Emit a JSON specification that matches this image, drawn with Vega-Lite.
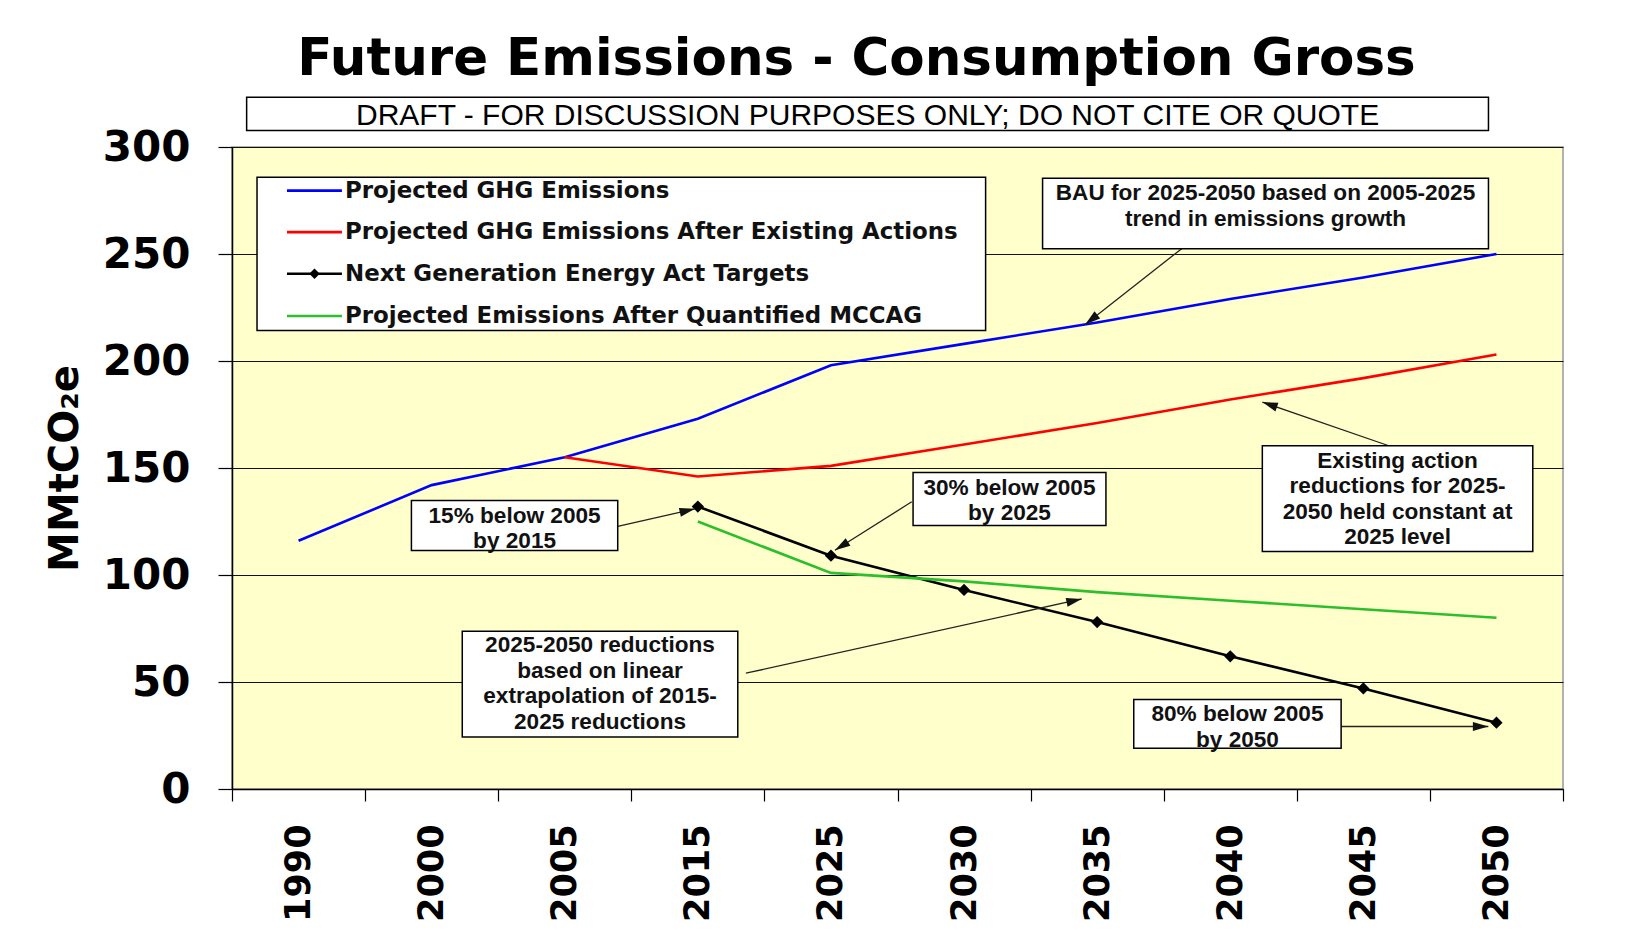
{
  "$schema": "https://vega.github.io/schema/vega-lite/v6.json",
  "width": 1331,
  "height": 642,
  "autosize": {"type": "none"},
  "padding": {"left": 232, "top": 147, "right": 62, "bottom": 142},
  "background": "white",
  "view": {"fill": "#FFFFCC", "stroke": "#999999", "strokeWidth": 1.5},
  "title": {
    "text": "Future Emissions - Consumption Gross",
    "anchor": "middle",
    "frame": "group",
    "dx": -41,
    "offset": -30,
    "baseline": "alphabetic",
    "font": "DejaVu Sans",
    "fontSize": 51.5,
    "fontWeight": "bold",
    "color": "black"
  },
  "config": {
    "axisX": {
      "tickBand": "extent",
      "labelAngle": -90,
      "labelFont": "DejaVu Sans",
      "labelFontWeight": "bold",
      "labelFontSize": 35,
      "labelColor": "black",
      "labelPadding": 23,
      "tickSize": 12,
      "tickColor": "black",
      "tickWidth": 1.2,
      "domainColor": "black",
      "domainWidth": 1.5,
      "grid": false
    },
    "axisY": {
      "labelFont": "DejaVu Sans",
      "labelFontWeight": "bold",
      "labelFontSize": 42,
      "labelColor": "black",
      "labelPadding": 28,
      "tickSize": 14,
      "tickColor": "black",
      "tickWidth": 1.2,
      "domainColor": "black",
      "domainWidth": 1.5,
      "grid": true,
      "gridColor": "#111111",
      "gridWidth": 1.2,
      "titleFont": "DejaVu Sans",
      "titleFontWeight": "bold",
      "titleFontSize": 40,
      "titleColor": "black",
      "titlePadding": 17
    }
  },
  "datasets": {
    "series": [
      {"series": "Projected GHG Emissions", "year": 1990, "emissions": 116},
      {"series": "Projected GHG Emissions", "year": 2000, "emissions": 142},
      {"series": "Projected GHG Emissions", "year": 2005, "emissions": 155},
      {"series": "Projected GHG Emissions", "year": 2015, "emissions": 173},
      {"series": "Projected GHG Emissions", "year": 2025, "emissions": 198},
      {"series": "Projected GHG Emissions", "year": 2030, "emissions": 208},
      {"series": "Projected GHG Emissions", "year": 2035, "emissions": 218},
      {"series": "Projected GHG Emissions", "year": 2040, "emissions": 229},
      {"series": "Projected GHG Emissions", "year": 2045, "emissions": 239},
      {"series": "Projected GHG Emissions", "year": 2050, "emissions": 250},
      {"series": "Projected GHG Emissions After Existing Actions", "year": 2005, "emissions": 155},
      {"series": "Projected GHG Emissions After Existing Actions", "year": 2015, "emissions": 146},
      {"series": "Projected GHG Emissions After Existing Actions", "year": 2025, "emissions": 151},
      {"series": "Projected GHG Emissions After Existing Actions", "year": 2030, "emissions": 161},
      {"series": "Projected GHG Emissions After Existing Actions", "year": 2035, "emissions": 171},
      {"series": "Projected GHG Emissions After Existing Actions", "year": 2040, "emissions": 182},
      {"series": "Projected GHG Emissions After Existing Actions", "year": 2045, "emissions": 192},
      {"series": "Projected GHG Emissions After Existing Actions", "year": 2050, "emissions": 203},
      {"series": "Next Generation Energy Act Targets", "year": 2015, "emissions": 132},
      {"series": "Next Generation Energy Act Targets", "year": 2025, "emissions": 109},
      {"series": "Next Generation Energy Act Targets", "year": 2030, "emissions": 93},
      {"series": "Next Generation Energy Act Targets", "year": 2035, "emissions": 78},
      {"series": "Next Generation Energy Act Targets", "year": 2040, "emissions": 62},
      {"series": "Next Generation Energy Act Targets", "year": 2045, "emissions": 47},
      {"series": "Next Generation Energy Act Targets", "year": 2050, "emissions": 31},
      {"series": "Projected Emissions After Quantified MCCAG", "year": 2015, "emissions": 125},
      {"series": "Projected Emissions After Quantified MCCAG", "year": 2025, "emissions": 101},
      {"series": "Projected Emissions After Quantified MCCAG", "year": 2030, "emissions": 97},
      {"series": "Projected Emissions After Quantified MCCAG", "year": 2035, "emissions": 92},
      {"series": "Projected Emissions After Quantified MCCAG", "year": 2040, "emissions": 88},
      {"series": "Projected Emissions After Quantified MCCAG", "year": 2045, "emissions": 84},
      {"series": "Projected Emissions After Quantified MCCAG", "year": 2050, "emissions": 80}
    ],
    "boxes": [
      {"id": "draft", "ax": 0.11, "ax2": 9.44, "v": 307.7, "v2": 323.2},
      {"id": "legend", "ax": 0.188, "ax2": 5.662, "v": 214.2, "v2": 285.9},
      {"id": "bau", "ax": 6.09, "ax2": 9.44, "v": 252.5, "v2": 285.4},
      {"id": "existing", "ax": 7.741, "ax2": 9.773, "v": 111.0, "v2": 160.4},
      {"id": "p30", "ax": 5.117, "ax2": 6.566, "v": 123.1, "v2": 147.9},
      {"id": "p15", "ax": 1.348, "ax2": 2.898, "v": 111.5, "v2": 134.8},
      {"id": "linear", "ax": 1.73, "ax2": 3.8, "v": 24.3, "v2": 73.7},
      {"id": "p80", "ax": 6.775, "ax2": 8.333, "v": 19.0, "v2": 41.8}
    ],
    "notes": [
      {"ax": 7.765, "v": 283.6, "lines": ["BAU for 2025-2050 based on 2005-2025", "trend in emissions growth"]},
      {"ax": 8.757, "v": 158.6, "lines": ["Existing action", "reductions for 2025-", "2050 held constant at", "2025 level"]},
      {"ax": 5.841, "v": 146.0, "lines": ["30% below 2005", "by 2025"]},
      {"ax": 2.123, "v": 132.9, "lines": ["15% below 2005", "by 2015"]},
      {"ax": 2.765, "v": 72.4, "lines": ["2025-2050 reductions", "based on linear", "extrapolation of 2015-", "2025 reductions"]},
      {"ax": 7.554, "v": 40.0, "lines": ["80% below 2005", "by 2050"]}
    ],
    "draft": [
      {"ax": 4.775, "v": 314.6, "t": "DRAFT - FOR DISCUSSION PURPOSES ONLY; DO NOT CITE OR QUOTE"}
    ],
    "arrows": [
      {"id": "bau", "ax": 7.135, "v": 252.5, "ax2": 6.41, "v2": 217.1},
      {"id": "existing", "ax": 8.691, "v": 160.4, "ax2": 7.741, "v2": 180.8},
      {"id": "p30", "ax": 5.107, "v": 134.2, "ax2": 4.53, "v2": 111.6},
      {"id": "p15", "ax": 2.898, "v": 122.7, "ax2": 3.478, "v2": 130.9},
      {"id": "linear", "ax": 3.861, "v": 54.1, "ax2": 6.384, "v2": 88.8},
      {"id": "p80", "ax": 8.333, "v": 29.2, "ax2": 9.439, "v2": 29.2}
    ],
    "legendRows": [
      {"series": "Projected GHG Emissions", "v": 279.6},
      {"series": "Projected GHG Emissions After Existing Actions", "v": 260.2},
      {"series": "Next Generation Energy Act Targets", "v": 240.8},
      {"series": "Projected Emissions After Quantified MCCAG", "v": 221.0}
    ]
  },
  "resolve": {"scale": {"x": "independent", "y": "independent"}, "axis": {"x": "independent", "y": "independent"}},
  "layer": [
    {
      "data": {"name": "series"},
      "layer": [
        {
          "mark": {"type": "line", "strokeWidth": 2.6},
          "encoding": {
            "x": {"field": "year", "type": "ordinal", "bandPosition": 0.5, "title": null,
                  "scale": {"type": "band", "domain": [1990, 2000, 2005, 2015, 2025, 2030, 2035, 2040, 2045, 2050], "paddingInner": 0, "paddingOuter": 0}},
            "y": {"field": "emissions", "type": "quantitative", "title": "MMtCO₂e",
                  "scale": {"domain": [0, 300], "nice": false},
                  "axis": {"values": [0, 50, 100, 150, 200, 250, 300]}},
            "color": {"field": "series", "type": "nominal", "legend": null,
                      "scale": {"domain": ["Projected GHG Emissions", "Projected GHG Emissions After Existing Actions", "Next Generation Energy Act Targets", "Projected Emissions After Quantified MCCAG"],
                                "range": ["#0000FF", "#FF0000", "#000000", "#2DBE2D"]}}
          }
        },
        {
          "transform": [{"filter": "datum.series === 'Next Generation Energy Act Targets'"}],
          "mark": {"type": "point", "shape": "diamond", "size": 150, "filled": true, "color": "black", "opacity": 1},
          "encoding": {
            "x": {"field": "year", "type": "ordinal", "bandPosition": 0.5, "title": null,
                  "scale": {"type": "band", "domain": [1990, 2000, 2005, 2015, 2025, 2030, 2035, 2040, 2045, 2050], "paddingInner": 0, "paddingOuter": 0}},
            "y": {"field": "emissions", "type": "quantitative", "title": "MMtCO₂e",
                  "scale": {"domain": [0, 300], "nice": false},
                  "axis": {"values": [0, 50, 100, 150, 200, 250, 300]}}
          }
        }
      ]
    },
    {
      "layer": [
        {
          "data": {"name": "arrows"},
          "mark": {"type": "rule", "color": "#222222", "strokeWidth": 1.3},
          "encoding": {
            "x": {"field": "ax", "type": "quantitative", "scale": {"domain": [0, 10], "nice": false, "zero": false}, "axis": null},
            "x2": {"field": "ax2"},
            "y": {"field": "v", "type": "quantitative", "scale": {"domain": [0, 300], "nice": false}, "axis": null},
            "y2": {"field": "v2"}
          }
        },
        {
          "data": {"name": "boxes"},
          "mark": {"type": "rect", "fill": "white", "stroke": "black", "strokeWidth": 1.5},
          "encoding": {
            "x": {"field": "ax", "type": "quantitative", "scale": {"domain": [0, 10], "nice": false, "zero": false}, "axis": null},
            "x2": {"field": "ax2"},
            "y": {"field": "v", "type": "quantitative", "scale": {"domain": [0, 300], "nice": false}, "axis": null},
            "y2": {"field": "v2"}
          }
        },
        {
          "data": {"name": "notes"},
          "mark": {"type": "text", "align": "center", "baseline": "top", "lineHeight": 25.5, "font": "Liberation Sans", "fontWeight": "bold", "fontSize": 22.6, "color": "#111111"},
          "encoding": {
            "x": {"field": "ax", "type": "quantitative", "scale": {"domain": [0, 10], "nice": false, "zero": false}, "axis": null},
            "y": {"field": "v", "type": "quantitative", "scale": {"domain": [0, 300], "nice": false}, "axis": null},
            "text": {"field": "lines", "type": "nominal"}
          }
        },
        {
          "data": {"name": "draft"},
          "mark": {"type": "text", "align": "center", "baseline": "middle", "font": "Liberation Sans", "fontSize": 30, "color": "black"},
          "encoding": {
            "x": {"field": "ax", "type": "quantitative", "scale": {"domain": [0, 10], "nice": false, "zero": false}, "axis": null},
            "y": {"field": "v", "type": "quantitative", "scale": {"domain": [0, 300], "nice": false}, "axis": null},
            "text": {"field": "t", "type": "nominal"}
          }
        },
        {
          "data": {"name": "legendRows"},
          "mark": {"type": "rule", "strokeWidth": 2.6},
          "encoding": {
            "x": {"datum": 0.413, "type": "quantitative", "scale": {"domain": [0, 10], "nice": false, "zero": false}, "axis": null},
            "x2": {"datum": 0.826},
            "y": {"field": "v", "type": "quantitative", "scale": {"domain": [0, 300], "nice": false}, "axis": null},
            "color": {"field": "series", "type": "nominal", "legend": null}
          }
        },
        {
          "data": {"name": "legendRows"},
          "transform": [{"filter": "datum.series === 'Next Generation Energy Act Targets'"}],
          "mark": {"type": "point", "shape": "diamond", "size": 110, "filled": true, "color": "black", "opacity": 1},
          "encoding": {
            "x": {"datum": 0.62, "type": "quantitative", "scale": {"domain": [0, 10], "nice": false, "zero": false}, "axis": null},
            "y": {"field": "v", "type": "quantitative", "scale": {"domain": [0, 300], "nice": false}, "axis": null}
          }
        },
        {
          "data": {"name": "legendRows"},
          "mark": {"type": "text", "align": "left", "baseline": "middle", "font": "DejaVu Sans", "fontWeight": "bold", "fontSize": 22.9, "color": "#111111"},
          "encoding": {
            "x": {"datum": 0.849, "type": "quantitative", "scale": {"domain": [0, 10], "nice": false, "zero": false}, "axis": null},
            "y": {"field": "v", "type": "quantitative", "scale": {"domain": [0, 300], "nice": false}, "axis": null},
            "text": {"field": "series", "type": "nominal"}
          }
        },
        {
          "data": {"name": "arrows"},
          "transform": [{"filter": "datum.id === 'bau'"}],
          "mark": {"type": "point", "shape": "M0,0L-0.5,1.7L0.5,1.7Z", "size": 330, "filled": true, "color": "#111111", "opacity": 1, "angle": 232},
          "encoding": {
            "x": {"field": "ax2", "type": "quantitative", "scale": {"domain": [0, 10], "nice": false, "zero": false}, "axis": null},
            "y": {"field": "v2", "type": "quantitative", "scale": {"domain": [0, 300], "nice": false}, "axis": null}
          }
        },
        {
          "data": {"name": "arrows"},
          "transform": [{"filter": "datum.id === 'existing'"}],
          "mark": {"type": "point", "shape": "M0,0L-0.5,1.7L0.5,1.7Z", "size": 330, "filled": true, "color": "#111111", "opacity": 1, "angle": 289},
          "encoding": {
            "x": {"field": "ax2", "type": "quantitative", "scale": {"domain": [0, 10], "nice": false, "zero": false}, "axis": null},
            "y": {"field": "v2", "type": "quantitative", "scale": {"domain": [0, 300], "nice": false}, "axis": null}
          }
        },
        {
          "data": {"name": "arrows"},
          "transform": [{"filter": "datum.id === 'p30'"}],
          "mark": {"type": "point", "shape": "M0,0L-0.5,1.7L0.5,1.7Z", "size": 330, "filled": true, "color": "#111111", "opacity": 1, "angle": 238},
          "encoding": {
            "x": {"field": "ax2", "type": "quantitative", "scale": {"domain": [0, 10], "nice": false, "zero": false}, "axis": null},
            "y": {"field": "v2", "type": "quantitative", "scale": {"domain": [0, 300], "nice": false}, "axis": null}
          }
        },
        {
          "data": {"name": "arrows"},
          "transform": [{"filter": "datum.id === 'p15'"}],
          "mark": {"type": "point", "shape": "M0,0L-0.5,1.7L0.5,1.7Z", "size": 330, "filled": true, "color": "#111111", "opacity": 1, "angle": 77},
          "encoding": {
            "x": {"field": "ax2", "type": "quantitative", "scale": {"domain": [0, 10], "nice": false, "zero": false}, "axis": null},
            "y": {"field": "v2", "type": "quantitative", "scale": {"domain": [0, 300], "nice": false}, "axis": null}
          }
        },
        {
          "data": {"name": "arrows"},
          "transform": [{"filter": "datum.id === 'linear'"}],
          "mark": {"type": "point", "shape": "M0,0L-0.5,1.7L0.5,1.7Z", "size": 330, "filled": true, "color": "#111111", "opacity": 1, "angle": 77.5},
          "encoding": {
            "x": {"field": "ax2", "type": "quantitative", "scale": {"domain": [0, 10], "nice": false, "zero": false}, "axis": null},
            "y": {"field": "v2", "type": "quantitative", "scale": {"domain": [0, 300], "nice": false}, "axis": null}
          }
        },
        {
          "data": {"name": "arrows"},
          "transform": [{"filter": "datum.id === 'p80'"}],
          "mark": {"type": "point", "shape": "M0,0L-0.5,1.7L0.5,1.7Z", "size": 330, "filled": true, "color": "#111111", "opacity": 1, "angle": 90},
          "encoding": {
            "x": {"field": "ax2", "type": "quantitative", "scale": {"domain": [0, 10], "nice": false, "zero": false}, "axis": null},
            "y": {"field": "v2", "type": "quantitative", "scale": {"domain": [0, 300], "nice": false}, "axis": null}
          }
        }
      ]
    }
  ]
}
